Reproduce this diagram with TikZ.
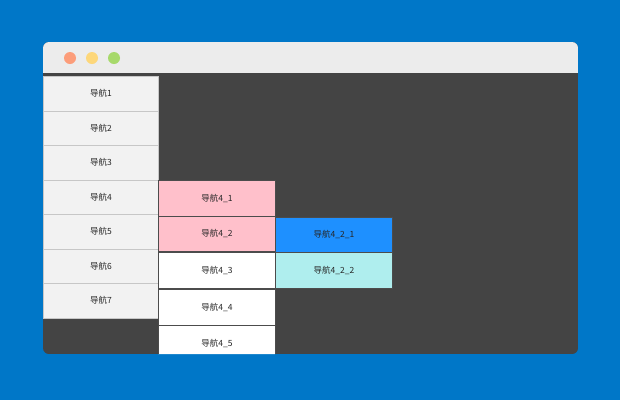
\documentclass[tikz,border=0pt]{standalone}
\usepackage{fontspec}
\setmainfont{Noto Sans CJK SC}
\definecolor{bg}{HTML}{0077C8}
\definecolor{bar}{HTML}{ECECEC}
\definecolor{dark}{HTML}{444444}
\definecolor{lgray}{HTML}{F2F2F2}
\definecolor{pinkc}{HTML}{FFC0CB}
\definecolor{bluec}{HTML}{1E90FF}
\definecolor{cyanc}{HTML}{AFEEEE}
\definecolor{dred}{HTML}{FC9D7A}
\definecolor{dyel}{HTML}{FDD77A}
\definecolor{dgrn}{HTML}{A7D96B}
\tikzset{
  item/.style={draw=#1, line width=0.8pt, inner sep=0pt, font=\fontsize{8.5}{10}\selectfont, text=black!85},
}
\begin{document}
\begin{tikzpicture}[x=1pt,y=-1pt]
\fill[bg] (0,0) rectangle (620,400);
\useasboundingbox (0,0) rectangle (620,400);
\begin{scope}
\clip[rounded corners=6pt] (43,42) rectangle (578,354);
\fill[dark] (43,42) rectangle (578,354);
\fill[bar] (43,42) rectangle (578,73);
\foreach \y/\t in {76/1,111/2,145/3,180/4,214/5,249/6,283/7}{
  \node[item=black!22, fill=lgray, minimum width=115pt, minimum height=34.5pt, anchor=north west] (n\t) at (43,\y) {导航\t};
}
\node[item=black!70, fill=pinkc, minimum width=117pt, minimum height=36pt, anchor=north west] (a1) at (158,180) {导航4\_1};
\node[item=black!70, fill=pinkc, minimum width=117pt, minimum height=35pt, anchor=north west] (a2) at (158,216) {导航4\_2};
\node[item=black!70, fill=white, minimum width=117pt, minimum height=36pt, anchor=north west] (a3) at (158,252) {导航4\_3};
\node[item=black!70, fill=white, minimum width=117pt, minimum height=36pt, anchor=north west] (a4) at (158,289) {导航4\_4};
\node[item=black!70, fill=white, minimum width=117pt, minimum height=36pt, anchor=north west] (a5) at (158,325) {导航4\_5};
\node[item=black!70, fill=bluec, minimum width=117pt, minimum height=35pt, anchor=north west] (b1) at (275,217) {导航4\_2\_1};
\node[item=black!70, fill=cyanc, minimum width=117pt, minimum height=36pt, anchor=north west] (b2) at (275,252) {导航4\_2\_2};
\end{scope}
\fill[dred] (70,58) circle (6);
\fill[dyel] (92,58) circle (6);
\fill[dgrn] (114,58) circle (6);
\end{tikzpicture}
\end{document}
